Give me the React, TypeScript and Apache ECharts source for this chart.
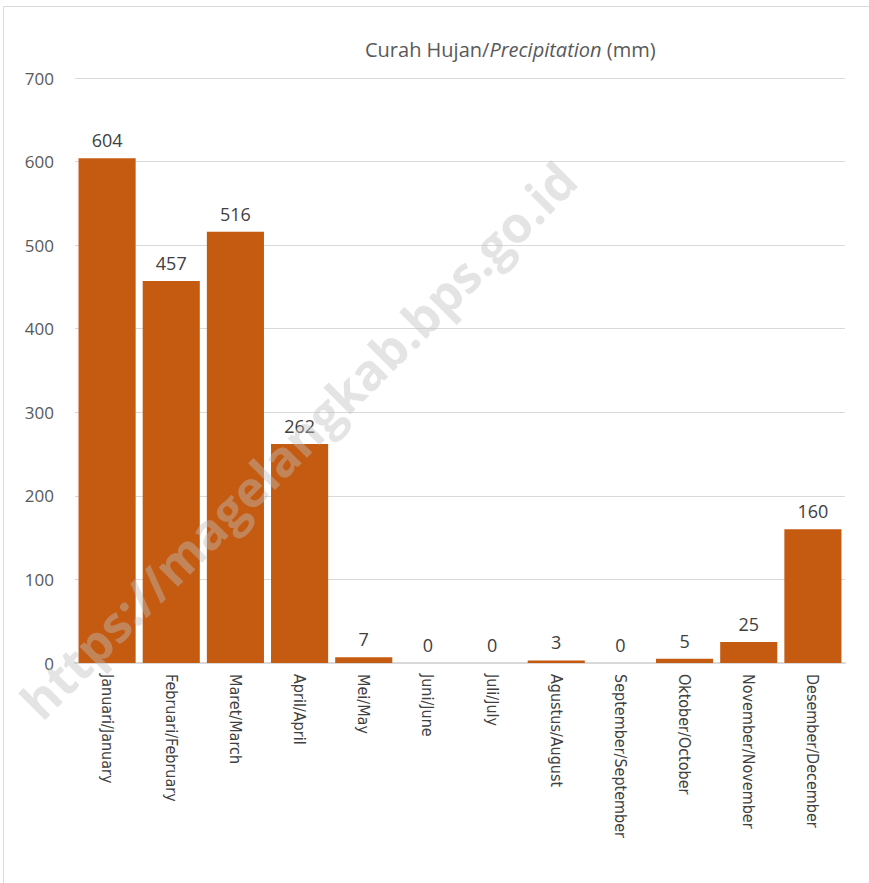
import React, { useEffect, useRef } from "react";
import * as echarts from "echarts";

const categories = [
  "Januari/January",
  "Februari/February",
  "Maret/March",
  "April/April",
  "Mei/May",
  "Juni/June",
  "Juli/July",
  "Agustus/August",
  "September/September",
  "Oktober/October",
  "November/November",
  "Desember/December",
];
const rainfall = [604, 457, 516, 262, 7, 0, 0, 3, 0, 5, 25, 160];
const yTicks = { min: 0, max: 700, interval: 100 };

export default function App() {
  const ref = useRef<HTMLDivElement>(null);
  useEffect(() => {
    if (!ref.current) return;
    const chart = echarts.init(ref.current, undefined, { renderer: "svg" });
    chart.setOption({
      animation: false,
      backgroundColor: "#ffffff",
      title: {
        text: "{a|Curah Hujan/}{b|Precipitation}{a| (mm)}",
        left: 360,
        top: 34,
        textStyle: {
          fontWeight: "normal",
          rich: {
            a: { fontFamily: "Open Sans", fontSize: 20, fontWeight: "normal", color: "#595959" },
            b: {
              fontFamily: "Open Sans",
              fontSize: 20,
              fontWeight: "normal",
              color: "#595959",
              fontStyle: "italic",
            },
          },
        },
      },
      grid: { left: 75, right: 24, top: 78, bottom: 220, containLabel: false },
      xAxis: {
        type: "category",
        data: categories,
        axisLine: { show: true, lineStyle: { color: "#d9d9d9", width: 2 } },
        axisTick: { show: false },
        axisLabel: {
          rotate: -90,
          margin: 11,
          interval: 0,
          fontFamily: "DejaVu Sans Condensed, Roboto Condensed, Roboto",
          fontSize: 16,
          color: "#404040",
        },
      },
      yAxis: {
        type: "value",
        min: yTicks.min,
        max: yTicks.max,
        interval: yTicks.interval,
        axisLine: { show: false },
        axisTick: { show: false },
        splitLine: { lineStyle: { color: "#d9d9d9", width: 1 } },
        axisLabel: {
          margin: 21,
          fontFamily: "Open Sans",
          fontSize: 17,
          color: "#595959",
        },
      },
      series: [
        {
          type: "bar",
          data: rainfall,
          barCategoryGap: "11%",
          itemStyle: { color: "#c55a11" },
          label: {
            show: true,
            position: "top",
            distance: 9,
            fontFamily: "Open Sans",
            fontSize: 18,
            color: "#404040",
          },
        },
      ],
      graphic: [
        {
          type: "rect",
          shape: { x: 3.5, y: 6.5, width: 1000, height: 1000 },
          style: { fill: "none", stroke: "#d9d9d9", lineWidth: 1 },
          silent: true,
        },
        {
          type: "text",
          x: 298,
          y: 440,
          rotation: Math.PI / 4,
          silent: true,
          z: 100,
          style: {
            text: "https://magelangkab.bps.go.id",
            fontFamily: "Open Sans",
            fontWeight: "bold",
            fontSize: 50,
            fill: "rgba(190,190,190,0.42)",
            align: "center",
            verticalAlign: "middle",
          },
        },
      ],
    });
    return () => chart.dispose();
  }, []);
  return (
    <div
      ref={ref}
      style={{ position: "fixed", left: 0, top: 0, width: 869, height: 883 }}
    />
  );
}
